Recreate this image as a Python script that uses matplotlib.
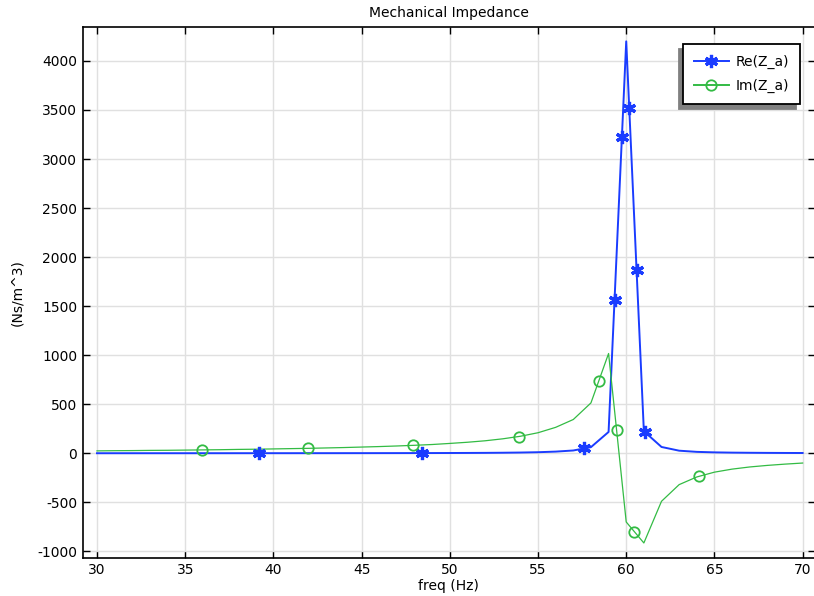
import matplotlib.pyplot as plt
import numpy as np
from matplotlib.lines import Line2D

plt.rcParams['font.family'] = 'DejaVu Sans'
plt.rcParams['font.size'] = 10
plt.rcParams['axes.unicode_minus'] = False

# frequency sweep, 1 Hz steps
freq = np.arange(30, 71)

re_z = [0.1, 0.2, 0.2, 0.2, 0.2, 0.2, 0.3, 0.3, 0.4, 0.4,
        0.5, 0.5, 0.6, 0.7, 0.8, 0.9, 1.1, 1.3, 1.6, 1.9,
        2.4, 3.0, 3.8, 5.1, 7.1, 10.4, 16.6, 28, 62, 217,
        4200, 225, 64, 26, 14, 8.9, 6.2, 4.7, 3.6, 2.9,
        2.4]

im_z = [24, 26, 27, 29, 30, 32, 34, 36, 39, 41,
        44, 47, 50, 54, 58, 63, 68, 74, 81, 89,
        100, 112, 127, 147, 173, 209, 264, 344, 513, 1017,
        -701, -915, -490, -320, -242, -193, -162, -140, -124, -111,
        -100]

re_color = '#1a3cff'
im_color = '#33bb44'


def marker_spots(ax, x, y, step_px):
    # evenly spaced points along the drawn polyline (display pixels)
    pts = ax.transData.transform(np.column_stack([x, y]))
    seg = np.hypot(*np.diff(pts, axis=0).T)
    dist = np.concatenate([[0], np.cumsum(seg)])
    d = np.arange(step_px, dist[-1] - 10, step_px)
    mx = np.interp(d, dist, pts[:, 0])
    my = np.interp(d, dist, pts[:, 1])
    return ax.transData.inverted().transform(np.column_stack([mx, my])).T


fig = plt.figure(figsize=(8.14, 5.96), dpi=100)
ax = fig.add_axes([0.1016, 0.0643, 0.8996, 0.891])
ax.set_xlim(29.19, 70.70)
ax.set_ylim(-1065, 4350)

ax.plot(freq, re_z, color=re_color, lw=1.4, zorder=3)
ax.plot(freq, im_z, color=im_color, lw=0.9, zorder=3)

rx, ry = marker_spots(ax, freq, re_z, 162.5)
ax.plot(rx, ry, ls='none', marker=(6, 2, 0), ms=9.5, mew=2.3,
        color=re_color, zorder=4)
ix, iy = marker_spots(ax, freq, im_z, 105.5)
ax.plot(ix, iy, ls='none', marker='o', ms=7.5, mew=1.3,
        mfc='none', mec=im_color, zorder=4)

ax.set_xticks(range(30, 71, 5))
ax.set_yticks(range(-1000, 4001, 500))
ax.grid(True, color='#e0e0e0', lw=1)
ax.set_axisbelow(True)
ax.tick_params(direction='in', length=5, width=1, top=True, right=True,
               labelsize=10, pad=4)
for s in ax.spines.values():
    s.set_linewidth(1.2)

ax.set_title('Mechanical Impedance', fontsize=10, pad=7)
ax.set_xlabel('freq (Hz)', fontsize=10, labelpad=1)
ax.set_ylabel('(Ns/m^3)', fontsize=10, labelpad=9)

handles = [
    Line2D([], [], color=re_color, lw=1.4, marker=(6, 2, 0), ms=9.5, mew=2.3),
    Line2D([], [], color=im_color, lw=1.4, marker='o', ms=7.5, mew=1.3,
           mfc='none'),
]
leg = ax.legend(handles, ['Re(Z_a)', 'Im(Z_a)'], loc='upper right',
                bbox_to_anchor=(0.9799, 0.968), borderaxespad=0,
                fancybox=False, framealpha=1, edgecolor='black',
                handlelength=2.5, handletextpad=0.5, labelspacing=0.7,
                borderpad=0.8, numpoints=1,
                shadow={'ox': -2.9, 'oy': -3.6, 'facecolor': '0.5',
                        'edgecolor': '0.5', 'alpha': 1})
leg.get_frame().set_linewidth(1.3)

fig.savefig('out.png', dpi=100)
